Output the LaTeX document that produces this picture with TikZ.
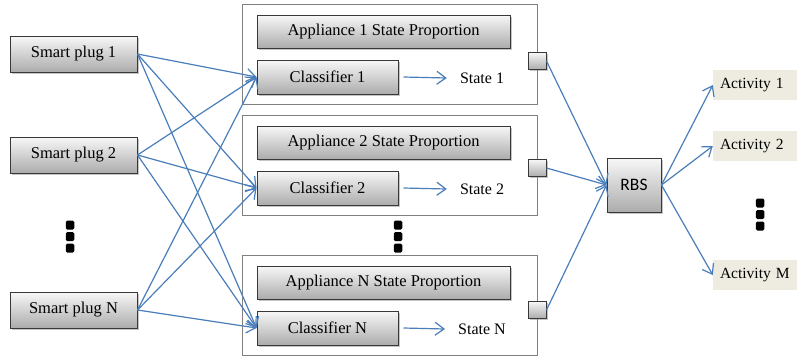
\documentclass[tikz,border=0pt]{standalone}
\usepackage{fontspec}
\setmainfont{Liberation Serif}
\newfontfamily\rbsfont{Carlito}
\usetikzlibrary{arrows.meta,shadows}

\definecolor{linkblue}{HTML}{4A7EBB}
\definecolor{boxedge}{HTML}{383838}
\definecolor{frameedge}{HTML}{808080}
\definecolor{actfill}{HTML}{EEECE1}

\tikzset{
  gbox/.style={draw=boxedge, line width=1pt, top color=white!94!gray,
    bottom color=gray!65, inner sep=0pt,
    drop shadow={shadow xshift=1.5pt, shadow yshift=-1.5pt, opacity=0.45},
    font=\fontsize{16.5}{18}\selectfont},
  framebox/.style={draw=frameedge, line width=0.9pt, fill=white, inner sep=0pt,
    minimum width=295pt, minimum height=100pt,
    drop shadow={shadow xshift=1pt, shadow yshift=-1pt, opacity=0.3}},
  plugbox/.style={gbox, minimum width=127pt, minimum height=36pt},
  propbox/.style={gbox, minimum width=253pt, minimum height=33pt},
  clsbox/.style={gbox, minimum width=141pt, minimum height=34pt},
  portbox/.style={gbox, minimum width=18pt, minimum height=17pt},
  statetext/.style={inner sep=0pt, font=\fontsize{16}{18}\selectfont},
  actbox/.style={fill=actfill, minimum width=84pt, minimum height=30pt,
    inner xsep=7pt, align=left, text width=70pt,
    font=\fontsize{15.5}{17}\selectfont},
  link/.style={draw=linkblue, line width=1.2pt,
    -{Straight Barb[length=9pt,width=13pt,line width=1.2pt]}},
  dotmark/.style={fill=black, rounded corners=1.5pt, minimum width=8.5pt,
    minimum height=9pt, inner sep=0pt},
}

\begin{document}
\begin{tikzpicture}[x=1pt, y=-1pt]
  \useasboundingbox (0,0) rectangle (797,360);

  % smart plugs
  \node[plugbox] (plug1) at (73.5,54)  {Smart plug 1};
  \node[plugbox] (plug2) at (73.5,155) {Smart plug 2};
  \node[plugbox] (plugN) at (73.5,310) {Smart plug N};

  % appliance frames
  \node[framebox] (fr1) at (389.5,54)  {};
  \node[framebox] (fr2) at (389.5,165) {};
  \node[framebox] (frN) at (389.5,305) {};

  % state proportion boxes
  \node[propbox] (prop1) at (383.5,31.5)  {Appliance 1 State Proportion};
  \node[propbox] (prop2) at (383.5,142.5) {Appliance 2 State Proportion};
  \node[propbox] (propN) at (383.5,282.5) {Appliance N State Proportion};

  % classifiers
  \node[clsbox] (cls1) at (327.5,77)  {Classifier 1};
  \node[clsbox] (cls2) at (327.5,188) {Classifier 2};
  \node[clsbox] (clsN) at (327.5,328) {Classifier N};

  % state outputs
  \node[statetext] (st1) at (482,78)  {State 1};
  \node[statetext] (st2) at (482,189) {State 2};
  \node[statetext] (stN) at (482,329) {State N};

  % output ports
  \node[portbox] (sq1) at (537,61)  {};
  \node[portbox] (sq2) at (537,168) {};
  \node[portbox] (sqN) at (537,310) {};

  % rule-based system
  \node[gbox, minimum width=54pt, minimum height=54pt,
        font=\rbsfont\fontsize{17.5}{19}\selectfont] (rbs) at (634,185) {RBS};

  % activities
  \node[actbox] (act1) at (755,85)  {Activity 1};
  \node[actbox] (act2) at (755,146) {Activity 2};
  \node[actbox] (actM) at (755,275) {Activity M};

  % ellipsis marks
  \foreach \x/\y in {70/225, 398/225, 760/203}{
    \node[dotmark] at (\x,\y) {};
    \node[dotmark] at (\x,\y+11.5) {};
    \node[dotmark] at (\x,\y+23) {};
  }

  % plug-to-classifier links
  \foreach \p in {plug1,plug2,plugN}
    \foreach \c in {cls1,cls2,clsN}
      \draw[link] (\p.east) -- (\c.west);

  % classifier outputs
  \foreach \c/\s in {cls1/st1,cls2/st2,clsN/stN}
    \draw[link] ([xshift=5pt]\c.east) -- ([xshift=-13pt]\s.west);

  % ports into RBS
  \foreach \q in {sq1,sq2,sqN}
    \draw[link] (\q.east) -- (rbs.west);

  % RBS to activities
  \foreach \a in {act1,act2,actM}
    \draw[link] (rbs.east) -- (\a.west);
\end{tikzpicture}
\end{document}
